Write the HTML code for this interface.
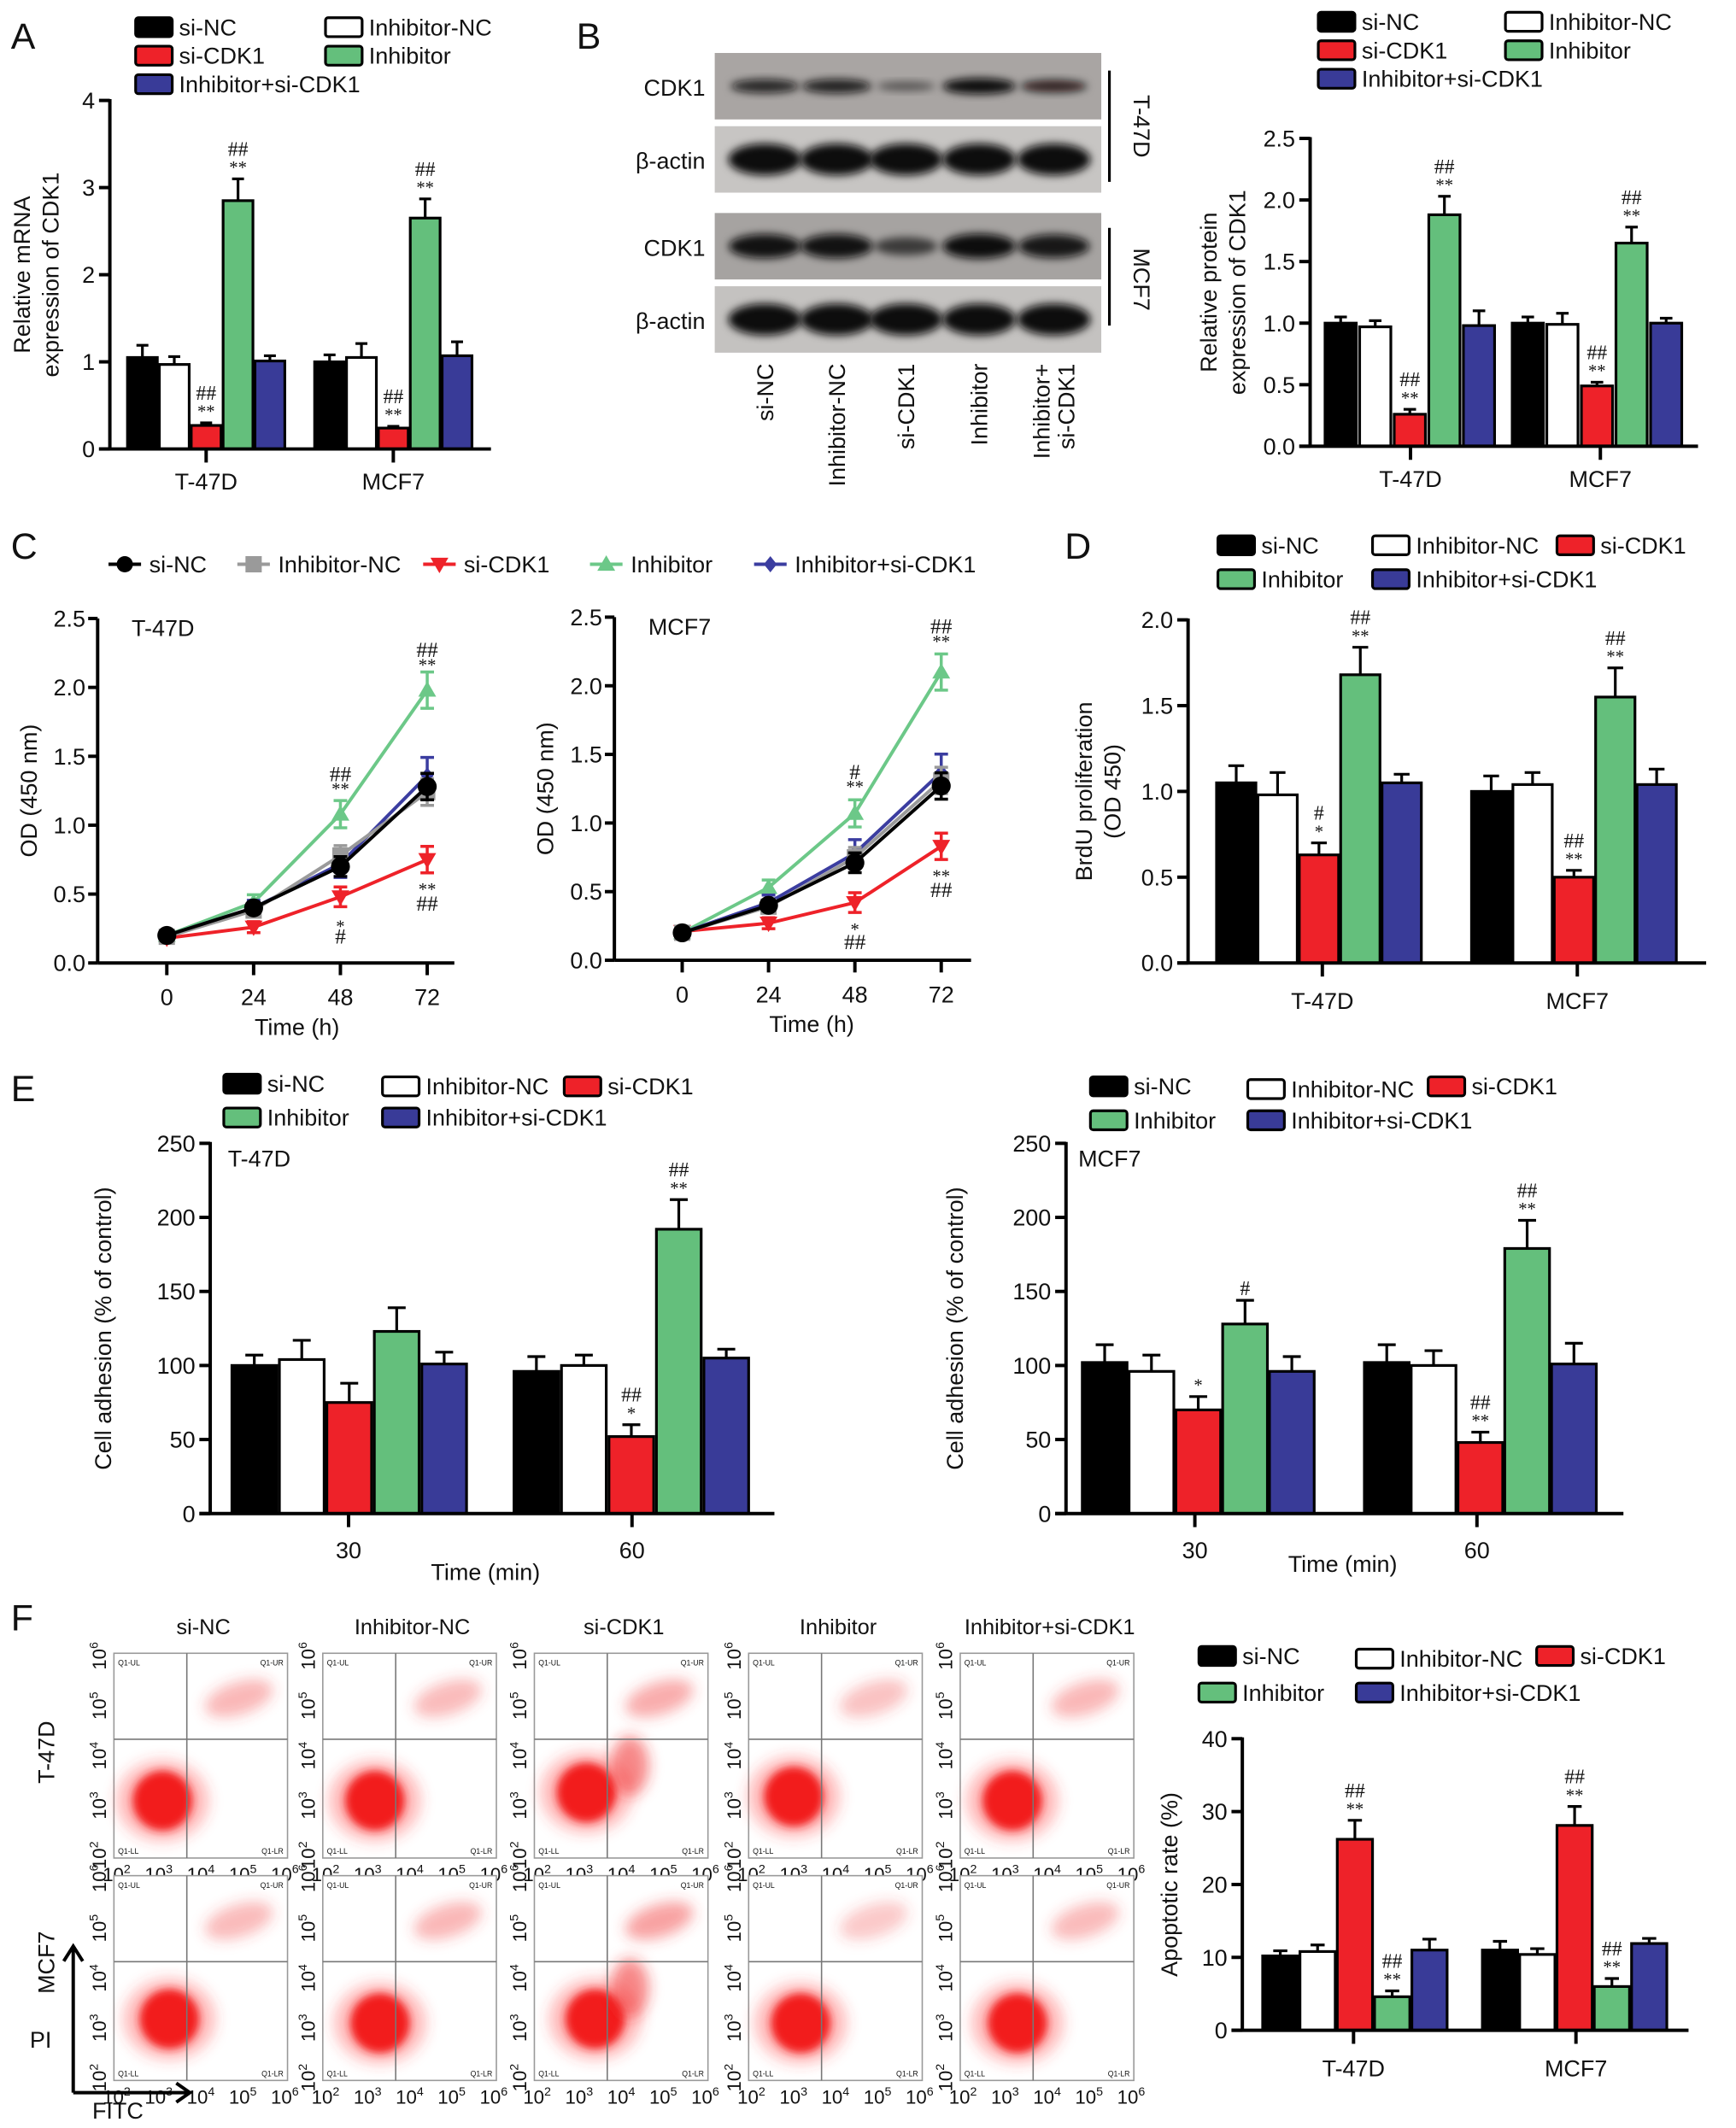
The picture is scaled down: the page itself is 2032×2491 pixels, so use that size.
<!DOCTYPE html>
<html><head><meta charset="utf-8"><style>
html,body{margin:0;padding:0;background:#fff;}
svg{display:block;font-family:"Liberation Sans",Arial,sans-serif;}
</style></head>
<body>
<svg id="fig" xmlns="http://www.w3.org/2000/svg" width="2032" height="2491" viewBox="0 0 1280 1569">
<defs>
<filter id="blur2" x="-50%" y="-50%" width="200%" height="200%"><feGaussianBlur stdDeviation="3"/></filter>
<filter id="blur5" x="-50%" y="-50%" width="200%" height="200%"><feGaussianBlur stdDeviation="5"/></filter>
</defs>
<g id="root"></g>
</svg>
<script>
// ---------- DATA ----------
const groupNames = ["si-NC","Inhibitor-NC","si-CDK1","Inhibitor","Inhibitor+si-CDK1"];
const barColors = ["#000000","#ffffff","#ee2229","#64bf7c","#393b98"];
const cellLines = ["T-47D","MCF7"];

const aValsT47D = [1.05,0.97,0.27,2.85,1.01];
const aErrsT47D = [0.14,0.09,0.03,0.25,0.06];
const aValsMCF7 = [1.00,1.05,0.24,2.65,1.07];
const aErrsMCF7 = [0.08,0.16,0.02,0.22,0.16];
const aTicks = [0,1,2,3,4];

const bValsT47D = [1.00,0.97,0.26,1.88,0.98];
const bErrsT47D = [0.05,0.05,0.04,0.15,0.12];
const bValsMCF7 = [1.00,0.99,0.49,1.65,1.00];
const bErrsMCF7 = [0.05,0.09,0.03,0.13,0.04];
const bTicks = [0,0.5,1.0,1.5,2.0,2.5];
const blotT47D_CDK1 = [0.75,0.8,0.2,1.0,0.65];
const blotMCF7_CDK1 = [0.95,0.95,0.45,1.0,0.9];

const cTimes = [0,24,48,72];
const cTicksY = [0,0.5,1.0,1.5,2.0,2.5];
const cT47D_siNC = [0.20,0.40,0.70,1.28];
const cT47D_inhNC = [0.19,0.38,0.78,1.24];
const cT47D_siCDK1 = [0.18,0.26,0.48,0.75];
const cT47D_inh = [0.20,0.44,1.08,1.98];
const cT47D_inhSi = [0.20,0.40,0.72,1.36];
const cMCF7_siNC = [0.20,0.40,0.71,1.27];
const cMCF7_inhNC = [0.20,0.39,0.75,1.31];
const cMCF7_siCDK1 = [0.21,0.27,0.42,0.83];
const cMCF7_inh = [0.20,0.53,1.07,2.10];
const cMCF7_inhSi = [0.20,0.42,0.78,1.37];
const cErr = [0.03,0.05,0.09,0.12];

const dValsT47D = [1.05,0.98,0.63,1.68,1.05];
const dErrsT47D = [0.10,0.13,0.07,0.16,0.05];
const dValsMCF7 = [1.00,1.04,0.50,1.55,1.04];
const dErrsMCF7 = [0.09,0.07,0.04,0.17,0.09];
const dTicks = [0,0.5,1.0,1.5,2.0];

const eTimes = ["30","60"];
const eT47D_30 = [100,104,75,123,101];
const eT47D_30err = [7,13,13,16,8];
const eT47D_60 = [96,100,52,192,105];
const eT47D_60err = [10,7,8,20,6];
const eMCF7_30 = [102,96,70,128,96];
const eMCF7_30err = [12,11,9,16,10];
const eMCF7_60 = [102,100,48,179,101];
const eMCF7_60err = [12,10,7,19,14];
const eTicks = [0,50,100,150,200,250];

const fValsT47D = [10.2,10.8,26.2,4.6,11.0];
const fErrsT47D = [0.7,0.9,2.6,0.8,1.5];
const fValsMCF7 = [11.0,10.4,28.1,6.0,11.9];
const fErrsMCF7 = [1.2,0.8,2.6,1.1,0.7];
const fTicks = [0,10,20,30,40];

// ---------- helpers ----------
const NS="http://www.w3.org/2000/svg";
const root=document.getElementById('root');
function mk(tag,attrs,parent){const e=document.createElementNS(NS,tag);for(const k in attrs)e.setAttribute(k,attrs[k]);(parent||root).appendChild(e);return e;}
function txt(s,x,y,size,anchor,parent,extra){const t=mk('text',Object.assign({x:x,y:y,'font-size':size,'text-anchor':anchor||'start',fill:'#111'},extra||{}),parent);t.textContent=s;return t;}
function fmt(v,dec){return dec?v.toFixed(dec):String(v);}

function legendBars(g,items){
  items.forEach(it=>{
    const r=mk('rect',{x:it[2],y:it[3]-12,width:27,height:14,rx:2,fill:barColors[it[1]],stroke:'#000','stroke-width':2},g);
    
    
    const t=txt(it[0],it[2]+32,it[3]+1,17,'start',g);
    
    
  });
}

function barChart(cfg){
  const g=mk('g',{});
  
  
  const y=v=>cfg.yb-(v-cfg.ymin)/(cfg.ymax-cfg.ymin)*(cfg.yb-cfg.yt);
  cfg.groups.forEach((grp,gi)=>{
    grp.vals.forEach((v,i)=>{
      const x=cfg.starts[gi]+i*cfg.pitch;
      const top=y(v+grp.errs[i]);
      const eb=mk('line',{x1:x+cfg.w/2,x2:x+cfg.w/2,y1:y(v),y2:top,stroke:'#000','stroke-width':2},g);
      
      
      mk('line',{x1:x+cfg.w*0.3,x2:x+cfg.w*0.7,y1:top,y2:top,stroke:'#000','stroke-width':2},g);
      const r=mk('rect',{x:x,y:y(v),width:cfg.w,height:cfg.yb-y(v),fill:barColors[i],stroke:'#000','stroke-width':2},g);
      
      
      (cfg.ann||[]).filter(a=>a[0]===gi&&a[1]===i).forEach(a=>{
        const lines=a.slice(2);
        lines.forEach((s,k)=>{
          const yy=top-4-(lines.length-1-k)*13;
          const t=txt(s,x+cfg.w/2,yy,s.indexOf('#')>=0?15:13,'middle',g,{'font-family':'"Liberation Serif",serif'});
          
          
        });
      });
    });
  });
  const ya=mk('line',{x1:cfg.ax,x2:cfg.ax,y1:cfg.yt-1,y2:cfg.yb+1,stroke:'#000','stroke-width':2.5},g);
  
  
  const xa=mk('line',{x1:cfg.ax-8,x2:cfg.xend,y1:cfg.yb,y2:cfg.yb,stroke:'#000','stroke-width':2.5},g);
  
  
  cfg.ticks.forEach(v=>{
    mk('line',{x1:cfg.ax-8,x2:cfg.ax,y1:y(v),y2:y(v),stroke:'#000','stroke-width':2.5},g);
    const t=txt(fmt(v,cfg.dec),cfg.ax-11,y(v)+6,17,'end',g);
    
    
  });
  cfg.xticks.forEach((xt,i)=>{
    mk('line',{x1:xt,x2:xt,y1:cfg.yb,y2:cfg.yb+10,stroke:'#000','stroke-width':2.5},g);
    const t=txt(cfg.xlabels[i],xt,cfg.yb+cfg.xlabOff,17,'middle',g);
    
    
  });
  const ty=txt(cfg.ytitle[0],0,0,17,'middle',g,{transform:`translate(${cfg.ytx},${(cfg.yt+cfg.yb)/2}) rotate(-90)`});
  
  
  if(cfg.ytitle[1]){
    const ty2=txt(cfg.ytitle[1],0,0,17,'middle',g,{transform:`translate(${cfg.ytx+21},${(cfg.yt+cfg.yb)/2}) rotate(-90)`});
    
    
  }
  return g;
}
function cellLinesOr(cfg,gi){return (cfg.xlabels[gi]||'').toLowerCase();}
function panelLabel(s,x,y){const t=txt(s,x,y,27,'start');}

// ---------- Panel A ----------
panelLabel('A',8,36);
(function(){const g=mk('g',{});
legendBars(g,[["si-NC",0,100,25],["si-CDK1",2,100,46],["Inhibitor+si-CDK1",4,100,67],["Inhibitor-NC",1,240,25],["Inhibitor",3,240,46]]);})();
barChart({name:'chart-a-mrna',ax:81,yb:331,yt:74,ymin:0,ymax:4,ticks:aTicks,dec:0,starts:[94,232],pitch:23.5,w:22,xend:362,
 groups:[{vals:aValsT47D,errs:aErrsT47D},{vals:aValsMCF7,errs:aErrsMCF7}],xticks:[152,290],xlabels:cellLines,xlabOff:30,
 ytitle:["Relative mRNA","expression of CDK1"],ytx:22,
 ann:[[0,2,"##","**"],[0,3,"##","**"],[1,2,"##","**"],[1,3,"##","**"]]});

// ---------- Panel B ----------
panelLabel('B',425,36);
(function(){
 const g=mk('g',{});
 const lanes=[564,617,668,722,777];
 const rows=[{y:39,h:49,bg:'#a9a5a3',lab:'CDK1',int:blotT47D_CDK1,bh:7},{y:93,h:49,bg:'#c7c5c3',lab:'β-actin',int:[1,1,1,1,1],bh:14},
             {y:157,h:49,bg:'#a6a3a1',lab:'CDK1',int:blotMCF7_CDK1,bh:11},{y:211,h:49,bg:'#c4c2c0',lab:'β-actin',int:[1,1,1,1,1],bh:14}];
 rows.forEach((r,ri)=>{
   const bg=mk('rect',{x:527,y:r.y,width:285,height:r.h,fill:r.bg},g);
   
   
   const t=txt(r.lab,520,r.y+r.h/2+7,17,'end',g);
   
   
   r.int.forEach((v,i)=>{
     const e=mk('ellipse',{cx:lanes[i],cy:r.y+r.h/2,rx:20+7*v,ry:r.bh*(0.5+0.5*v)/1.2,fill:`rgba(10,8,8,${0.35+0.65*v})`,filter:'url(#blur2)'},g);
     
     
   });
 });
 mk('line',{x1:818,x2:818,y1:52,y2:134,stroke:'#000','stroke-width':2},g);
 mk('line',{x1:818,x2:818,y1:168,y2:240,stroke:'#000','stroke-width':2},g);
 const t1=txt('T-47D',0,0,17,'middle',g,{transform:'translate(836,93) rotate(90)'});
 
 const t2=txt('MCF7',0,0,17,'middle',g,{transform:'translate(836,206) rotate(90)'});
 
 const laneLabels=[["si-NC"],["Inhibitor-NC"],["si-CDK1"],["Inhibitor"],["Inhibitor+","si-CDK1"]];
 laneLabels.forEach((l,i)=>{
   l.forEach((s,k)=>{
     const xx=lanes[i]+6-(l.length-1-k)*18 + (l.length>1?9:0);
     const t=txt(s,0,0,17,'end',g,{transform:`translate(${xx},268) rotate(-90)`});
     
     
   });
 });
})();
(function(){const g=mk('g',{});
legendBars(g,[["si-NC",0,972,21],["si-CDK1",2,972,42],["Inhibitor+si-CDK1",4,972,63],["Inhibitor-NC",1,1110,21],["Inhibitor",3,1110,42]]);})();
barChart({name:'chart-b-protein',ax:966,yb:329,yt:102,ymin:0,ymax:2.5,ticks:bTicks,dec:1,starts:[977,1115],pitch:25.5,w:23,xend:1252,
 groups:[{vals:bValsT47D,errs:bErrsT47D},{vals:bValsMCF7,errs:bErrsMCF7}],xticks:[1040,1180],xlabels:cellLines,xlabOff:30,
 ytitle:["Relative protein","expression of CDK1"],ytx:897,
 ann:[[0,2,"##","**"],[0,3,"##","**"],[1,2,"##","**"],[1,3,"##","**"]]});

// ---------- Panel C ----------
panelLabel('C',8,412);
const cSeriesColors=["#000000","#9a9a9a","#ee2229","#6cc888","#3b3da0"];
const cMarkers=["circle","square","tridown","triup","diamond"];
function marker(g,type,x,y,c,s){
  let e;
  if(type==='circle') e=mk('circle',{cx:x,cy:y,r:s,fill:c},g);
  else if(type==='square') e=mk('rect',{x:x-s,y:y-s,width:2*s,height:2*s,fill:c},g);
  else if(type==='tridown') e=mk('polygon',{points:`${x-s*1.1},${y-s*0.8} ${x+s*1.1},${y-s*0.8} ${x},${y+s*1.1}`,fill:c},g);
  else if(type==='triup') e=mk('polygon',{points:`${x-s*1.1},${y+s*0.8} ${x+s*1.1},${y+s*0.8} ${x},${y-s*1.1}`,fill:c},g);
  else e=mk('polygon',{points:`${x},${y-s} ${x+s*0.8},${y} ${x},${y+s} ${x-s*0.8},${y}`,fill:c},g);
  
  
  return e;
}
(function(){
 const g=mk('g',{});
 const xs=[80,175,312,435,556];
 groupNames.forEach((n,i)=>{
   const ln=mk('line',{x1:xs[i],x2:xs[i]+24,y1:416,y2:416,stroke:cSeriesColors[i],'stroke-width':2.5},g);
   
   
   marker(g,cMarkers[i],xs[i]+12,416,cSeriesColors[i],6);
   const t=txt(n,xs[i]+30,422,17,'start',g);
   
   
 });
})();
function lineChart(cfg){
  const g=mk('g',{});
  
  
  const y=v=>cfg.yb-v/2.5*(cfg.yb-cfg.yt);
  const x=t=>cfg.x0+t/72*(cfg.x72-cfg.x0);
  const order=[2,3,4,1,0];
  order.forEach(si=>{
    const vals=cfg.series[si];const c=cSeriesColors[si];
    const pl=mk('polyline',{points:vals.map((v,i)=>x(cTimes[i])+','+y(v)).join(' '),fill:'none',stroke:c,'stroke-width':2.5},g);
    
    
    vals.forEach((v,i)=>{
      const xx=x(cTimes[i]),e=cErr[i]*(si===3||si===4?1.1:0.8);
      const eb=mk('path',{d:`M${xx},${y(v-e)}V${y(v+e)}M${xx-5},${y(v-e)}H${xx+5}M${xx-5},${y(v+e)}H${xx+5}`,stroke:c,'stroke-width':2.2,fill:'none'},g);
      
      
      marker(g,cMarkers[si],xx,y(v),c,si===0?7:6);
    });
  });
  mk('line',{x1:cfg.ax,x2:cfg.ax,y1:cfg.yt,y2:cfg.yb,stroke:'#000','stroke-width':2.5},g);
  mk('line',{x1:cfg.ax,x2:cfg.xend,y1:cfg.yb,y2:cfg.yb,stroke:'#000','stroke-width':2.5},g);
  cTicksY.forEach(v=>{
    mk('line',{x1:cfg.ax-7,x2:cfg.ax,y1:y(v),y2:y(v),stroke:'#000','stroke-width':2.5},g);
    const t=txt(v.toFixed(1),cfg.ax-9,y(v)+6,17,'end',g);
    
    
  });
  cTimes.forEach(tm=>{
    mk('line',{x1:x(tm),x2:x(tm),y1:cfg.yb,y2:cfg.yb+9,stroke:'#000','stroke-width':2.5},g);
    const t=txt(String(tm),x(tm),cfg.yb+31,17,'middle',g);
    
    
  });
  const xt=txt('Time (h)',(cfg.x0+cfg.x72)/2,cfg.yb+53,17,'middle',g);
  
  const yt=txt('OD (450 nm)',0,0,17,'middle',g,{transform:`translate(${cfg.ax-45},${(cfg.yt+cfg.yb)/2}) rotate(-90)`});
  
  const cl=txt(cfg.label,cfg.ax+25,cfg.yt+13,17,'start',g);
  
  cfg.ann.forEach(a=>{
    const t=txt(a[2],x(cTimes[a[0]]),y(a[1]),a[2].indexOf('#')>=0?16:13,'middle',g,{'font-family':'"Liberation Serif",serif'});
    
    
  });
}
lineChart({name:'chart-c-t47d',ax:72,yt:456,yb:710,x0:123,x72:315,xend:335,label:'T-47D',
 series:[cT47D_siNC,cT47D_inhNC,cT47D_siCDK1,cT47D_inh,cT47D_inhSi],
 ann:[[2,1.32,'##'],[2,1.22,'**'],[3,2.22,'##'],[3,2.12,'**'],[2,0.22,'*'],[2,0.14,'#'],[3,0.49,'**'],[3,0.38,'##']]});
lineChart({name:'chart-c-mcf7',ax:453,yt:455,yb:708,x0:503,x72:694,xend:716,label:'MCF7',
 series:[cMCF7_siNC,cMCF7_inhNC,cMCF7_siCDK1,cMCF7_inh,cMCF7_inhSi],
 ann:[[2,1.32,'#'],[2,1.22,'**'],[3,2.38,'##'],[3,2.28,'**'],[2,0.18,'*'],[2,0.08,'##'],[3,0.57,'**'],[3,0.46,'##']]});

// ---------- Panel D ----------
panelLabel('D',785,412);
(function(){const g=mk('g',{});
legendBars(g,[["si-NC",0,898,407],["Inhibitor",3,898,432],["Inhibitor-NC",1,1012,407],["Inhibitor+si-CDK1",4,1012,432],["si-CDK1",2,1148,407]]);})();
barChart({name:'chart-d-brdu',ax:876,yb:710,yt:457,ymin:0,ymax:2.0,ticks:dTicks,dec:1,starts:[897,1085],pitch:30.5,w:29,xend:1258,
 groups:[{vals:dValsT47D,errs:dErrsT47D},{vals:dValsMCF7,errs:dErrsMCF7}],xticks:[975,1163],xlabels:cellLines,xlabOff:34,
 ytitle:["BrdU proliferation","(OD 450)"],ytx:805,
 ann:[[0,2,"#","*"],[0,3,"##","**"],[1,2,"##","**"],[1,3,"##","**"]]});

// ---------- Panel E ----------
panelLabel('E',8,812);
(function(){const g=mk('g',{});
legendBars(g,[["si-NC",0,165,804],["Inhibitor",3,165,829],["Inhibitor-NC",1,282,806],["Inhibitor+si-CDK1",4,282,829],["si-CDK1",2,416,806]]);})();
(function(){const g=mk('g',{});
legendBars(g,[["si-NC",0,804,806],["Inhibitor",3,804,831],["Inhibitor-NC",1,920,808],["Inhibitor+si-CDK1",4,920,831],["si-CDK1",2,1053,806]]);})();
barChart({name:'chart-e-t47d',ax:155,yb:1116,yt:843,ymin:0,ymax:250,ticks:eTicks,dec:0,starts:[171,379],pitch:35,w:33,xend:571,
 groups:[{vals:eT47D_30,errs:eT47D_30err},{vals:eT47D_60,errs:eT47D_60err}],xticks:[257,466],xlabels:eTimes,xlabOff:33,
 ytitle:["Cell adhesion (% of control)"],ytx:82,
 ann:[[1,2,"##","*"],[1,3,"##","**"]]});
barChart({name:'chart-e-mcf7',ax:786,yb:1116,yt:843,ymin:0,ymax:250,ticks:eTicks,dec:0,starts:[798,1006],pitch:34.5,w:33,xend:1197,
 groups:[{vals:eMCF7_30,errs:eMCF7_30err},{vals:eMCF7_60,errs:eMCF7_60err}],xticks:[881,1089],xlabels:eTimes,xlabOff:33,
 ytitle:["Cell adhesion (% of control)"],ytx:710,
 ann:[[0,2,"*"],[0,3,"#"],[1,2,"##","**"],[1,3,"##","**"]]});
(function(){
 const a=txt('T-47D',168,860,17,'start');
 const b=txt('MCF7',795,860,17,'start');
 const c=txt('Time (min)',358,1165,17,'middle');
 const d=txt('Time (min)',990,1159,17,'middle');
})();

// ---------- Panel F flow ----------
panelLabel('F',8,1202);
const flowCols=[84,238,394,552,708];
const flowRowsY=[1213,1377];
const flowW=128, flowH=157;
const flowMainT47D=[[0.28,0.72],[0.3,0.72],[0.3,0.68],[0.26,0.7],[0.3,0.72]];
const flowMainMCF7=[[0.32,0.7],[0.33,0.72],[0.35,0.7],[0.3,0.72],[0.33,0.72]];
const flowURt=[0.55,0.5,0.75,0.35,0.55];
const flowURm=[0.5,0.55,0.9,0.25,0.5];
(function(){
 const g=mk('g',{});
 groupNames.forEach((n,i)=>{
   const t=txt(n,flowCols[i]+flowW/2+2,1205,16,'middle',g);
   
   
 });
 flowRowsY.forEach((ry,r)=>{
   flowCols.forEach((cx,c)=>{
     const pg=mk('g',{},g);
     
     
     const top=ry+6;
     mk('rect',{x:cx,y:top,width:flowW,height:flowH-6,fill:'#fff',stroke:'#999','stroke-width':1},pg);
     const main=(r===0?flowMainT47D:flowMainMCF7)[c];
     const ur=(r===0?flowURt:flowURm)[c];
     const mx=cx+main[0]*flowW,my=top+main[1]*(flowH-6);
     mk('ellipse',{cx:mx,cy:my,rx:34,ry:30,fill:'rgba(255,60,60,0.35)',filter:'url(#blur5)'},pg);
     mk('ellipse',{cx:mx,cy:my,rx:22,ry:22,fill:'#f21d1d',filter:'url(#blur2)'},pg);
     mk('ellipse',{cx:cx+flowW*0.72,cy:top+(flowH-6)*0.22,rx:26,ry:12,fill:`rgba(240,60,60,${0.2+0.3*ur})`,filter:'url(#blur5)',transform:`rotate(-18 ${cx+flowW*0.72} ${top+(flowH-6)*0.22})`},pg);
     if(c===2){mk('ellipse',{cx:cx+flowW*0.55,cy:top+(flowH-6)*0.55,rx:14,ry:22,fill:'rgba(240,40,40,0.55)',filter:'url(#blur5)'},pg);}
     const qx=cx+flowW*0.42,qy=top+(flowH-6)*0.42;
     mk('line',{x1:qx,x2:qx,y1:top,y2:top+flowH-6,stroke:'#777','stroke-width':1},pg);
     mk('line',{x1:cx,x2:cx+flowW,y1:qy,y2:qy,stroke:'#777','stroke-width':1},pg);
     txt('Q1-UL',cx+3,top+9,5.5,'start',pg);
     txt('Q1-UR',cx+flowW-3,top+9,5.5,'end',pg);
     txt('Q1-LL',cx+3,top+flowH-9,5.5,'start',pg);
     txt('Q1-LR',cx+flowW-3,top+flowH-9,5.5,'end',pg);
     [2,3,4,5,6].forEach((p,k)=>{
       const xx=cx+2+k*(flowW-4)/4;
       const t=mk('text',{x:xx,y:ry+flowH+17,'font-size':14,'text-anchor':'middle',fill:'#111'},pg);
       t.innerHTML='10<tspan dy="-6" font-size="9">'+p+'</tspan>';
       
       
       const yy=top+flowH-8-k*(flowH-10)/4;
       const t2=mk('text',{x:0,y:0,'font-size':14,'text-anchor':'middle',fill:'#111',transform:`translate(${cx-6},${yy}) rotate(-90)`},pg);
       t2.innerHTML='10<tspan dy="-6" font-size="9">'+p+'</tspan>';
       
       
     });
   });
 });
 const r1=txt('T-47D',0,0,17,'middle',g,{transform:'translate(40,1292) rotate(-90)'});
 
 const r2=txt('MCF7',0,0,17,'middle',g,{transform:'translate(40,1447) rotate(-90)'});
 
 const ar=mk('path',{d:'M54,1543V1435M47,1446L54,1435L61,1446M54,1543H140M130,1536L140,1543L130,1550',stroke:'#000','stroke-width':2.5,fill:'none'},g);
 
 const pi=txt('PI',22,1510,17,'start',g);
 const fi=txt('FITC',68,1562,17,'start',g);
})();
(function(){const g=mk('g',{});
legendBars(g,[["si-NC",0,884,1226],["Inhibitor",3,884,1253],["Inhibitor-NC",1,1000,1228],["Inhibitor+si-CDK1",4,1000,1253],["si-CDK1",2,1133,1226]]);})();
barChart({name:'chart-f-apoptosis',ax:916,yb:1497,yt:1282,ymin:0,ymax:40,ticks:fTicks,dec:0,starts:[931,1093],pitch:27.5,w:26,xend:1245,
 groups:[{vals:fValsT47D,errs:fErrsT47D},{vals:fValsMCF7,errs:fErrsMCF7}],xticks:[998,1162],xlabels:cellLines,xlabOff:34,
 ytitle:["Apoptotic rate (%)"],ytx:868,
 ann:[[0,2,"##","**"],[0,3,"##","**"],[1,2,"##","**"],[1,3,"##","**"]]});
</script>
</body></html>
